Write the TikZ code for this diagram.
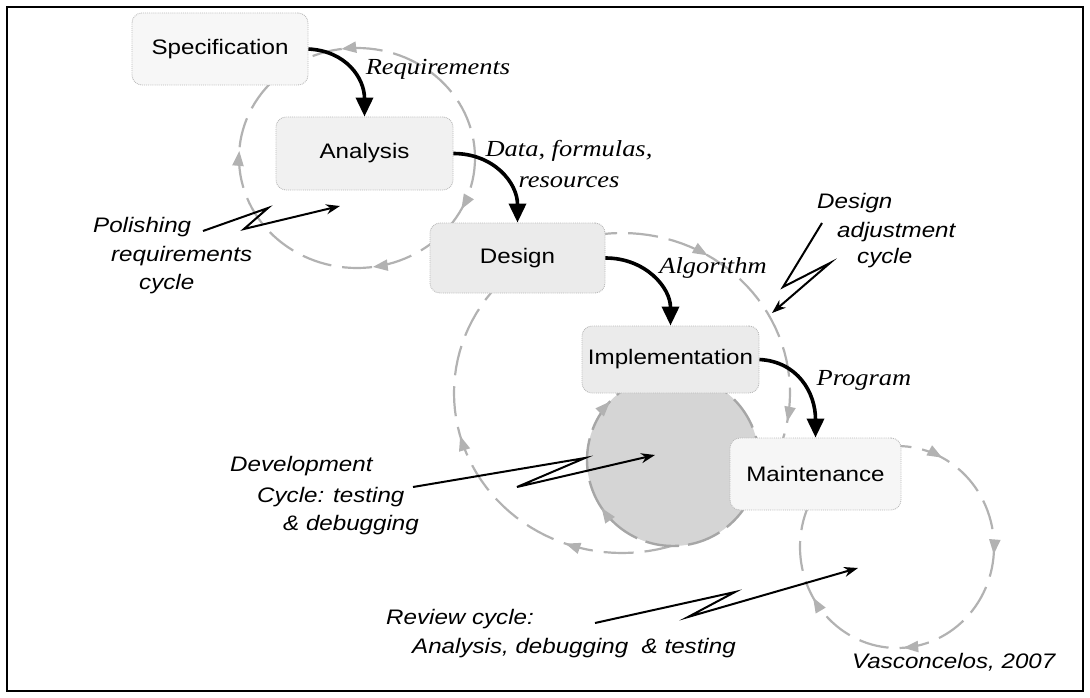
\documentclass[tikz,border=0pt]{standalone}
\usepackage{fontspec}
\setmainfont{Liberation Serif}[FakeStretch=1.15]
\newfontfamily\arialfont{Liberation Sans}[FakeStretch=1.15]
\usetikzlibrary{arrows.meta,decorations.markings}

% grey arrow tips placed along the dashed cycles
\newcommand\gfwd{\arrow[gray!60]{Triangle[length=15pt,width=11pt]}}
\newcommand\gbwd{\arrowreversed[gray!60]{Triangle[length=15pt,width=11pt]}}

\tikzset{
  stagebox/.style={draw=gray!55, densely dotted, line width=0.9pt, rounded corners=10pt,
    font=\arialfont\fontsize{21}{24}\selectfont, inner sep=0pt},
  flow/.style={line width=3.6pt, black, -{Triangle[length=19pt,width=17pt]}},
  cyc/.style={draw=gray!60, line width=2.2pt, dash pattern=on 30pt off 11pt, line join=round},
  blobcyc/.style={draw=gray!70, line width=2.4pt, dash pattern=on 34pt off 9pt, line join=round},
  tips/.style={postaction={decorate}, decoration={markings, #1}},
  zig/.style={line width=2pt, black, line join=miter, -{Stealth[length=14pt,width=10pt]}},
  tlabel/.style={font=\itshape\fontsize{23}{31}\selectfont, inner sep=0pt, align=center},
  note/.style={font=\arialfont\itshape\fontsize{21}{24}\selectfont, inner sep=0pt,
    anchor=west, text height=15pt, text depth=4pt},
}

\begin{document}
\begin{tikzpicture}[x=1pt,y=-1pt]
\useasboundingbox (0,0) rectangle (1090,698);
\draw[line width=2pt] (7,7) rectangle (1083,691);

% polishing requirements cycle
\draw[cyc, tips={mark=at position 0.075 with {\gfwd}, mark=at position 0.228 with {\gfwd},
      mark=at position 0.51 with {\gfwd}, mark=at position 0.728 with {\gbwd}}]
  plot[domain=0:360, samples=121] ({357+118*cos(\x)}, {158+110*sin(\x)});

% design adjustment cycle
\draw[cyc, tips={mark=at position 0.028 with {\gfwd}, mark=at position 0.306 with {\gfwd},
      mark=at position 0.458 with {\gfwd}, mark=at position 0.837 with {\gfwd}}]
  plot[domain=0:360, samples=121] ({622+168*cos(\x)}, {393+160*sin(\x)});

% review cycle
\draw[cyc, tips={mark=at position 0.012 with {\gfwd}, mark=at position 0.24 with {\gfwd},
      mark=at position 0.415 with {\gfwd}, mark=at position 0.826 with {\gfwd}}]
  plot[domain=0:360, samples=121] ({897+97*cos(\x)}, {547+101*sin(\x)});

% development cycle: shaded disc under Implementation
\fill[gray!33] (673,460) circle[radius=86pt];
\draw[blobcyc, tips={mark=at position 0.406 with {\gfwd}, mark=at position 0.619 with {\gfwd}}]
  plot[domain=0:360, samples=121] ({673+86*cos(\x)}, {460+86*sin(\x)});

% stages
\node[stagebox, fill=gray!6,  minimum width=176pt, minimum height=72pt] (spec) at (220,49) {Specification};
\node[stagebox, fill=gray!11, minimum width=177pt, minimum height=73pt] (ana)  at (364.5,153.5) {Analysis};
\node[stagebox, fill=gray!16, minimum width=175pt, minimum height=70pt] (des)  at (517.5,258) {Design};
\node[stagebox, fill=gray!16, minimum width=177pt, minimum height=67pt] (imp)  at (670.5,359.5) {Implementation};
\node[stagebox, fill=gray!7,  minimum width=171pt, minimum height=72pt] (mai)  at (815.5,474) {Maintenance};

% main flow
\draw[flow] (spec.east) .. controls +(38,2) and +(0,-38) .. (ana.north);
\draw[flow] (ana.east) .. controls +(40,0) and +(0,-40) .. (des.north);
\draw[flow] (des.east) .. controls +(40,0) and +(0,-38) .. (imp.north);
\draw[flow] (imp.east) .. controls +(38,2) and +(0,-45) .. (mai.north);

% flow labels
\node[tlabel] (lreq) at (438,69) {Requirements};
\node[tlabel] (ldata) at (569,164) {Data, formulas,\\resources};
\node[tlabel] (lalg) at (713,268) {Algorithm};
\node[tlabel] (lprog) at (864,380) {Program};

% cycle notes
\node[note] (pol1) at (93,227) {Polishing};
\node[note] (pol2) at (111,256) {requirements};
\node[note] (pol3) at (139,284) {cycle};

\node[note] (dad1) at (817,203) {Design};
\node[note] (dad2) at (837,232) {adjustment};
\node[note] (dad3) at (857,258) {cycle};

\node[note] (dev1) at (230,466) {Development};
\node[note] (dev2) at (257,497) {Cycle: testing};
\node[note] (dev3) at (283,525) {\& debugging};

\node[note] (rev1) at (386,619) {Review cycle:};
\node[note] (rev2) at (412,648) {Analysis, debugging\ \ \& testing};

\node[note] (auth) at (852,663) {Vasconcelos, 2007};

% lightning pointers
\coordinate (pa) at (203,231); \coordinate (pb) at (268,208);
\coordinate (pc) at (244,229); \coordinate (pd) at (340,206);
\draw[zig] (pa) -- (pb) -- (pc) -- (pd);

\coordinate (da) at (822,223); \coordinate (db) at (783,287);
\coordinate (dc) at (830,263); \coordinate (dd) at (772,313);
\draw[zig] (da) -- (db) -- (dc) -- (dd);

\coordinate (va) at (413,487); \coordinate (vb) at (585,458);
\coordinate (vc) at (517,487); \coordinate (vd) at (655,455);
\draw[zig] (va) -- (vb) -- (vc) -- (vd);

\coordinate (ra) at (595,623); \coordinate (rb) at (735,592);
\coordinate (rc) at (688,617); \coordinate (rd) at (858,568);
\draw[zig] (ra) -- (rb) -- (rc) -- (rd);
\end{tikzpicture}
\end{document}
